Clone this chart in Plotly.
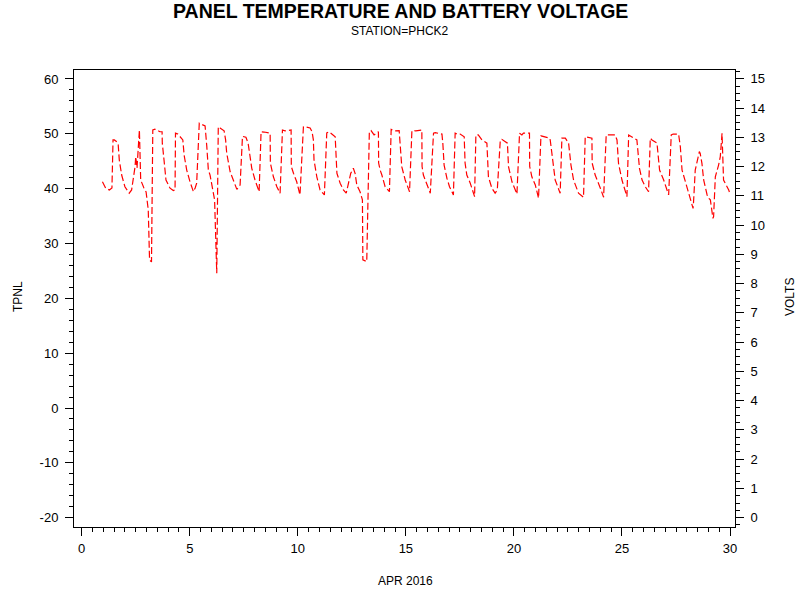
import plotly.graph_objects as go

# Day of April 2016 (fractional) and battery voltage
DAYS = [0.96, 1.11, 1.28, 1.40, 1.45, 1.51, 1.65, 1.69, 1.74, 1.85, 2.00, 2.20,
        2.31, 2.39, 2.47, 2.50, 2.56, 2.67, 2.73, 2.88, 2.98, 3.08, 3.14, 3.23,
        3.29, 3.39, 3.62, 3.72, 3.73, 3.81, 3.90, 4.09, 4.24,
        4.32, 4.34, 4.45, 4.68, 4.74, 4.86, 5.01, 5.17,
        5.25, 5.32, 5.44, 5.71, 5.79, 5.86, 5.94, 6.05, 6.15, 6.25,
        6.32, 6.40, 6.59, 6.66, 6.71, 6.87, 7.02, 7.18,
        7.33, 7.44, 7.60, 7.70, 7.87, 8.02, 8.21,
        8.30, 8.44, 8.72, 8.73, 8.81, 8.87, 9.03, 9.18,
        9.29, 9.41, 9.69, 9.70, 9.80, 9.95, 10.10,
        10.26, 10.34, 10.57, 10.66, 10.72, 10.75, 10.88, 11.03, 11.23,
        11.34, 11.45, 11.73, 11.77, 11.81, 11.96, 12.11, 12.24,
        12.34, 12.45, 12.57, 12.65, 12.73, 12.88, 12.99, 13.01, 13.19,
        13.31, 13.39, 13.53, 13.73, 13.74, 13.81, 13.89, 14.04, 14.24,
        14.32, 14.50, 14.69, 14.74, 14.81, 14.97, 15.17,
        15.28, 15.46, 15.74, 15.75, 15.81, 15.97, 16.13,
        16.28, 16.36, 16.67, 16.71, 16.77, 16.90, 17.02, 17.20,
        17.28, 17.38, 17.51, 17.70, 17.74, 17.82, 17.98, 18.18,
        18.24, 18.35, 18.52, 18.67, 18.75, 18.82, 18.98, 19.13,
        19.23, 19.37, 19.44, 19.70, 19.75, 19.91, 20.14,
        20.26, 20.37, 20.44, 20.72, 20.73, 20.83, 20.99, 21.14,
        21.25, 21.37, 21.65, 21.68, 21.81, 21.91, 22.14,
        22.22, 22.38, 22.53, 22.64, 22.76, 22.99, 23.22,
        23.30, 23.61, 23.62, 23.76, 24.00, 24.15,
        24.27, 24.45, 24.68, 24.77, 24.84, 25.00, 25.23,
        25.31, 25.38, 25.54, 25.69, 25.81, 25.93, 26.08, 26.23,
        26.31, 26.39, 26.62, 26.74, 26.93, 27.16,
        27.28, 27.37, 27.62, 27.70, 27.78, 27.93, 28.09, 28.29,
        28.31, 28.39, 28.58, 28.62, 28.70, 28.78, 28.94, 29.01, 29.09, 29.21,
        29.24, 29.32, 29.47, 29.55, 29.63, 29.64, 29.70, 29.94, 29.98]

VOLTS = [11.48, 11.26, 11.20, 11.27, 12.91, 12.91, 12.83, 12.74, 12.22, 11.71, 11.31, 11.09,
         11.20, 11.54, 12.00, 12.34, 11.95, 13.25, 11.54, 11.27, 11.13, 10.52, 8.81, 8.74,
         13.25, 13.28, 13.19, 13.19, 12.80, 12.22, 11.54, 11.26, 11.18,
         11.20, 13.14, 13.11, 12.91, 12.39, 11.88, 11.48, 11.14,
         11.27, 11.43, 13.48, 13.39, 12.68, 11.88, 11.71, 11.20, 10.86, 8.35,
         13.36, 13.32, 13.22, 12.91, 12.46, 11.82, 11.54, 11.22,
         11.37, 13.03, 13.00, 12.80, 11.94, 11.54, 11.14,
         13.19, 13.18, 13.14, 12.12, 11.88, 11.65, 11.31, 11.09,
         13.25, 13.22, 13.25, 12.00, 11.77, 11.48, 11.03,
         13.36, 13.36, 13.32, 13.19, 12.91, 12.22, 11.65, 11.20, 11.03,
         13.15, 13.19, 13.02, 12.57, 11.77, 11.43, 11.20, 11.09,
         11.48, 11.77, 11.94, 11.77, 11.37, 11.14, 10.86, 8.81, 8.75,
         13.19, 13.23, 13.08, 13.19, 12.12, 11.88, 11.71, 11.31, 11.14,
         13.27, 13.22, 13.23, 12.68, 12.00, 11.54, 11.14,
         13.23, 13.22, 13.25, 12.00, 11.71, 11.37, 11.09,
         13.14, 13.16, 13.11, 12.80, 12.05, 11.60, 11.31, 11.03,
         13.14, 13.11, 13.11, 13.02, 12.12, 11.71, 11.43, 10.97,
         13.08, 13.08, 12.91, 12.85, 12.80, 11.65, 11.26, 11.09,
         11.20, 12.91, 12.93, 12.80, 12.00, 11.48, 11.06,
         13.14, 13.08, 13.14, 13.14, 12.00, 11.65, 11.37, 10.92,
         13.05, 13.02, 12.97, 12.91, 12.00, 11.54, 11.09,
         12.97, 12.97, 12.80, 12.05, 11.54, 11.09, 10.95,
         13.02, 12.97, 12.12, 11.71, 11.26, 10.95,
         13.08, 13.08, 13.08, 12.91, 12.11, 11.54, 10.97,
         13.08, 13.05, 12.97, 12.91, 11.94, 11.54, 11.31, 11.14,
         12.97, 12.91, 12.80, 11.88, 11.54, 11.03,
         13.08, 13.11, 13.11, 12.68, 11.88, 11.48, 11.03, 10.57,
         10.76, 11.88, 12.51, 12.45, 12.11, 11.54, 11.03, 10.92, 10.86, 10.23,
         10.29, 11.65, 12.05, 12.34, 13.14, 12.91, 11.54, 11.20, 11.11]

X_TICKS = [0, 5, 10, 15, 20, 25, 30]
TPNL_TICKS = [-20, -10, 0, 10, 20, 30, 40, 50, 60]
TPNL_LABELS = ["-20", "-10", "0", "10", "20", "30", "40", "50", "60"]
VOLT_TICKS = list(range(0, 16))

FONT = "Liberation Sans, Arial, sans-serif"

W, H = 800, 600
L, T = 74, 70
R = W - 735
B = H - 527
pw, ph = W - L - R, H - T - B

fig = go.Figure()
fig.add_trace(go.Scatter(x=[], y=[], yaxis="y", showlegend=False, hoverinfo="skip"))
fig.add_trace(go.Scatter(
    x=DAYS, y=VOLTS, yaxis="y2", mode="lines",
    line=dict(color="#FF0000", width=1.2, dash="7px,3px"),
    showlegend=False,
))

axis_common = dict(
    showline=True, linecolor="black", linewidth=1,
    ticks="outside", tickcolor="black", tickwidth=1, ticklen=8,
    showgrid=False, zeroline=False,
    tickfont=dict(family=FONT, size=13, color="black"),
)


def ann(text, px, py, size=12, angle=0):
    return dict(text=text, x=(px - L) / pw, y=1 - (py - T) / ph,
                xref="paper", yref="paper", xanchor="center", yanchor="middle",
                showarrow=False, textangle=angle,
                font=dict(family=FONT, size=size, color="black"))


fig.update_layout(
    width=W, height=H,
    margin=dict(l=L, r=R, t=T, b=B, pad=0),
    paper_bgcolor="white", plot_bgcolor="white",
    xaxis=dict(
        range=[-0.356, 30.23], tickvals=X_TICKS, mirror=True,
        minor=dict(dtick=0.5, tick0=0, ticks="outside", ticklen=4, tickcolor="black", showgrid=False),
        ticklabelstandoff=1,
        **axis_common,
    ),
    yaxis=dict(
        range=[-21.7, 61.64], tickvals=TPNL_TICKS, ticktext=TPNL_LABELS,
        minor=dict(dtick=2, tick0=0, ticks="outside", ticklen=4, tickcolor="black", showgrid=False),
        ticklabelstandoff=4,
        **axis_common,
    ),
    yaxis2=dict(
        range=[-0.32, 15.30], tickvals=VOLT_TICKS, overlaying="y", side="right", anchor="x",
        minor=dict(dtick=0.25, tick0=0, ticks="outside", ticklen=4, tickcolor="black", showgrid=False),
        ticklabelstandoff=4,
        **axis_common,
    ),
    annotations=[
        ann("<b>PANEL TEMPERATURE AND BATTERY VOLTAGE</b>", 400, 11, size=19.5),
        ann("STATION=PHCK2", 400, 31, size=12),
        ann("TPNL", 18, 297, angle=-90),
        ann("VOLTS", 790, 297, angle=-90),
        ann("APR 2016", 405, 581),
    ],
)

fig.write_html(
    "out.html",
    config={"displayModeBar": False},
    post_script="document.body.style.margin='0';document.body.style.padding='0';",
)
